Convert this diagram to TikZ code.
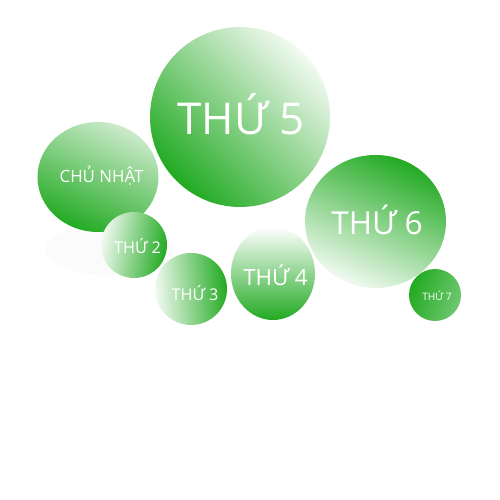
\documentclass[tikz,border=0pt]{standalone}
\usepackage{fontspec}
\setmainfont{Open Sans}
\setsansfont{Open Sans}
\usetikzlibrary{shapes.geometric}
\definecolor{leaf}{HTML}{22AA22}
\definecolor{mint}{HTML}{F2FAF2}
\definecolor{sage}{HTML}{CDEBCD}
\definecolor{haze}{HTML}{FBFBFB}

\begin{document}
\begin{tikzpicture}[font=\sffamily,text=white,
  day/.style={ellipse,inner sep=0pt}]
  \useasboundingbox[fill=white] (0,0) rectangle (10,10);

  % faint reflection under the left pair
  \fill[haze] (2.2,5.0) ellipse (1.3 and .5);

  \node[day,minimum width=2.42cm,minimum height=2.2cm,
    top color=sage,bottom color=leaf,shading angle=-25]
    (sun) at (1.96,6.46) {};
  \node[font=\sffamily\fontsize{9.6}{12}\selectfont] (sunlbl) at (2.03,6.48) {CHỦ NHẬT};

  \node[day,minimum size=3.6cm,
    top color=mint,bottom color=leaf,shading angle=-45]
    (thu) at (4.8,7.66) {};
  \node[font=\sffamily\fontsize{25}{30}\selectfont] (thulbl) at (4.82,7.72) {THỨ 5};

  \node[day,minimum width=2.82cm,minimum height=2.66cm,
    top color=leaf,bottom color=mint,shading angle=-25]
    (fri) at (7.51,5.57) {};
  \node[font=\sffamily\fontsize{18}{22}\selectfont] (frilbl) at (7.54,5.61) {THỨ 6};

  \node[day,minimum size=1.32cm,
    top color=mint,bottom color=leaf,shading angle=80]
    (mon) at (2.68,5.1) {};
  \node[font=\sffamily\fontsize{9.2}{11}\selectfont] (monlbl) at (2.75,5.08) {THỨ 2};

  \node[day,minimum size=1.44cm,
    top color=mint,bottom color=leaf,shading angle=95]
    (tue) at (3.82,4.22) {};
  \node[font=\sffamily\fontsize{9.2}{11}\selectfont] (tuelbl) at (3.9,4.14) {THỨ 3};

  \node[day,minimum width=1.68cm,minimum height=1.86cm,
    top color=white,bottom color=leaf,shading angle=0]
    (wed) at (5.46,4.53) {};
  \node[font=\sffamily\fontsize{12.7}{15}\selectfont] (wedlbl) at (5.51,4.5) {THỨ 4};

  \node[day,minimum size=1.04cm,
    top color=leaf,bottom color=leaf!65!white,shading angle=70]
    (sat) at (8.7,4.1) {};
  \node[font=\sffamily\fontsize{5.8}{7}\selectfont] (satlbl) at (8.74,4.08) {THỨ 7};
\end{tikzpicture}
\end{document}
